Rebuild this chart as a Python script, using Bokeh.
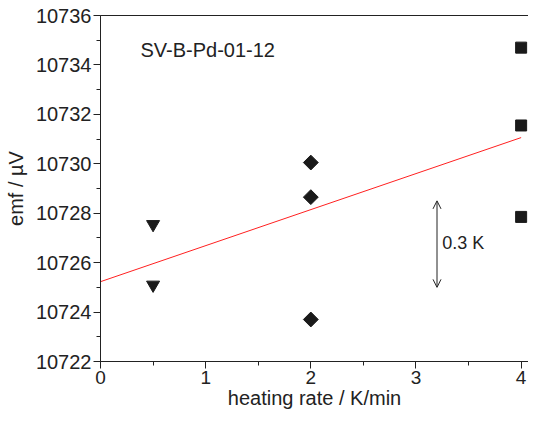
from bokeh.plotting import figure
from bokeh.models import Range1d, SingleIntervalTicker, LinearAxis, FixedTicker, Arrow, OpenHead, Label
from bokeh.embed import file_html
from bokeh.resources import INLINE

# data
rate_tri = [0.5, 0.5]
emf_tri = [10727.55, 10725.1]
rate_dia = [2, 2, 2]
emf_dia = [10730.05, 10728.65, 10723.7]
rate_sq = [4, 4, 4]
emf_sq = [10734.7, 10731.55, 10727.85]
fit_rate = [0, 4]
fit_emf = [10725.23, 10731.06]
arrow_rate = 3.2
arrow_emf = [10725.0, 10728.5]
sample_name = "SV-B-Pd-01-12"
sample_pos = (0.38, 10734.6)
arrow_text = "0.3 K"
arrow_text_pos = (3.25, 10726.8)

FONT = "Liberation Sans"
TXT = "#222222"

p = figure(width=528, height=411, output_backend="svg", toolbar_location=None,
           x_range=Range1d(0, 4.07), y_range=Range1d(10722, 10736),
           min_border_left=100, min_border_right=0, min_border_top=15, min_border_bottom=10)
p.outline_line_color = None
p.xgrid.grid_line_color = None
p.ygrid.grid_line_color = None
p.background_fill_color = "white"
p.border_fill_color = "white"

for ax in (p.xaxis[0], p.yaxis[0]):
    ax.axis_line_color = TXT
    ax.major_tick_line_color = TXT
    ax.minor_tick_line_color = TXT
    ax.major_tick_in = 0
    ax.major_tick_out = 7
    ax.minor_tick_in = 0
    ax.minor_tick_out = 4
    ax.major_label_text_font = FONT
    ax.major_label_text_font_size = "20px"
    ax.major_label_text_color = TXT
    ax.axis_label_text_font = FONT
    ax.axis_label_text_font_size = "20px"
    ax.axis_label_text_font_style = "normal"
    ax.axis_label_text_color = TXT

p.xaxis.ticker = SingleIntervalTicker(interval=1, num_minor_ticks=2)
p.yaxis.ticker = SingleIntervalTicker(interval=2, num_minor_ticks=2)
p.xaxis.axis_label = "heating rate / K/min"
p.yaxis.axis_label = "emf / µV"
p.xaxis.major_label_text_font_size = "19px"
p.xaxis.major_label_standoff = 2
p.xaxis.axis_label_standoff = 0
p.yaxis.major_label_standoff = 2
p.yaxis.axis_label_standoff = 6

top = LinearAxis(ticker=FixedTicker(ticks=[]), axis_line_color=TXT, axis_line_width=1,
                 major_label_text_font_size="0px", major_tick_out=0, minor_tick_out=0)
p.add_layout(top, "above")

p.line(fit_rate, fit_emf, line_color="#ff2020", line_width=1)

p.scatter(rate_tri, emf_tri, marker="inverted_triangle", size=13, color="#1a1a1a")
p.scatter(rate_dia, emf_dia, marker="square", angle=0.785398, size=10.5, color="#1a1a1a")
p.scatter(rate_sq, emf_sq, marker="square", size=11, color="#1a1a1a")

p.add_layout(Arrow(x_start=arrow_rate, y_start=arrow_emf[0], x_end=arrow_rate, y_end=arrow_emf[1],
                   line_width=1, line_color=TXT,
                   start=OpenHead(size=8, line_width=1, line_color=TXT),
                   end=OpenHead(size=8, line_width=1, line_color=TXT)))

p.add_layout(Label(x=arrow_text_pos[0], y=arrow_text_pos[1], text=arrow_text,
                   text_font=FONT, text_font_size="18px", text_color=TXT,
                   text_baseline="middle", text_align="left"))
p.add_layout(Label(x=sample_pos[0], y=sample_pos[1], text=sample_name,
                   text_font=FONT, text_font_size="20px", text_color=TXT,
                   text_baseline="middle", text_align="left"))

open("out.html", "w").write(file_html(p, INLINE))
